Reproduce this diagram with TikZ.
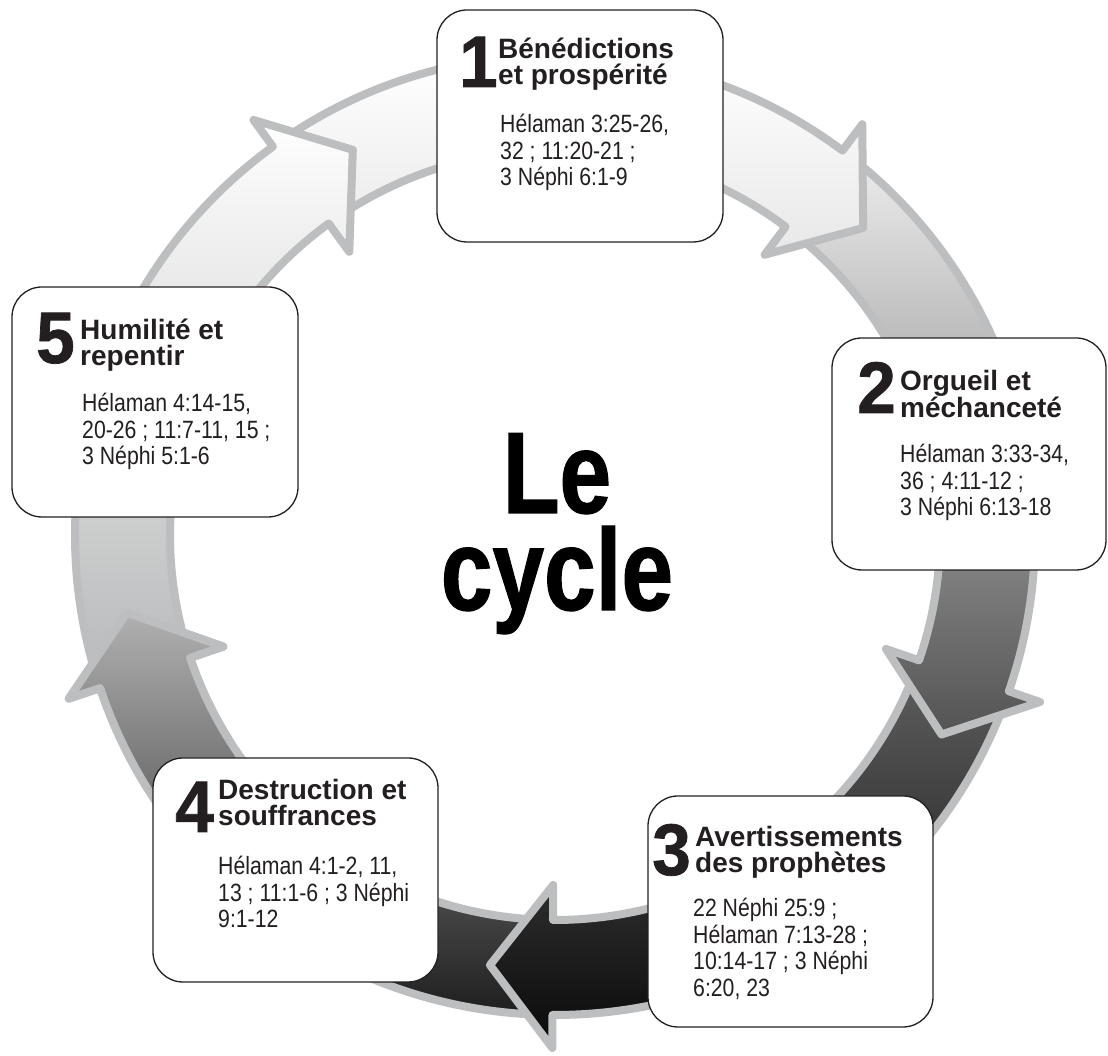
\documentclass[tikz,border=0pt]{standalone}
\usepackage{fontspec}
\setmainfont{Liberation Sans}
\newfontfamily\bodyfont{Liberation Sans}[FakeStretch=0.85]
\newfontfamily\numfont{Liberation Sans}[FakeStretch=0.95,FakeBold=1]
\newfontfamily\titlefont{Liberation Sans}[FakeStretch=0.8,FakeBold=1]
\definecolor{cycRim}{HTML}{BCBEC0}
\definecolor{cycInk}{HTML}{231F20}
\definecolor{cycAlo}{HTML}{B8B9BA}
\definecolor{cycBlo}{HTML}{E8E8E8}
\definecolor{cycChi}{HTML}{EFEFEF}
\definecolor{cycClo}{HTML}{545454}
\definecolor{cycDhi}{HTML}{5E5E5E}
\definecolor{cycDlo}{HTML}{080808}
\definecolor{cycEhi}{HTML}{B3B3B3}
\definecolor{cycElo}{HTML}{1E1E1E}
\usetikzlibrary{positioning}

% one arrow of the ring: #1 tail angle, #2 angle of the head's base
\newcommand{\segpath}[2]{(#1:480) arc[start angle=#1, end angle=#2, radius=480]
  -- (#2:513) -- ({#2-8.3}:435) -- (#2:350) -- (#2:385)
  arc[start angle=#2, end angle=#1, radius=385] -- cycle}
% #3/#4 bottom/top of the shading, #5/#6 bottom/top colour
\newcommand{\ringseg}[6]{%
  \begin{scope}
    \clip[ring] \segpath{#1}{#2};
    \shade[bottom color=#5, top color=#6] (0,#3) rectangle (1108,#4);
  \end{scope}
  \draw[ring, ringline] \segpath{#1}{#2};}

\begin{document}
\begin{tikzpicture}[
  x=1pt, y=1pt,
  ring/.style={shift={(555,521)}},
  ringline/.style={draw=cycRim, line width=8pt, line join=round},
  stage/.style={draw=cycInk, fill=white, line width=1.3pt, rounded corners=30pt},
  num/.style={anchor=base east, inner sep=0pt, text=cycInk, font=\numfont\bfseries\fontsize{73}{73}\selectfont},
  head/.style={anchor=base west, inner sep=0pt, align=left, text=cycInk, font=\bfseries\fontsize{28}{26}\selectfont},
  refs/.style={anchor=base west, inner sep=0pt, align=left, text=cycInk, font=\bodyfont\fontsize{25}{26.5}\selectfont},
  title/.style={anchor=base, inner sep=0pt, align=center, font=\titlefont\bfseries\fontsize{116}{97}\selectfont},
]
  \useasboundingbox (0,0) rectangle (1108,1056);
  \fill[white] (0,0) rectangle (1108,1056);

  % Ring: each arrow's head lies over the tail of the next one
  \ringseg{-92.3}{-161.4}{41}{450}{cycElo}{cycEhi}
  \ringseg{-21}{-90.3}{5}{385}{cycDlo}{cycDhi}
  \ringseg{51.2}{-19}{325}{910}{cycClo}{cycChi}
  \ringseg{124}{53.2}{803}{1001}{cycBlo}{white}
  \ringseg{196.6}{126}{373}{945}{cycAlo}{white}
  % head of the last arrow again, over the first tail
  \begin{scope}
    \clip[ring] (0,0) -- (180:620) arc[start angle=180, end angle=212, radius=620] -- cycle;
    \ringseg{-92.3}{-161.4}{41}{450}{cycElo}{cycEhi}
  \end{scope}

  % Stage boxes
  \node[stage, minimum width=286pt, minimum height=232pt] (b1) at (580,930) {};
  \node[stage, minimum width=274pt, minimum height=232pt] (b2) at (969,602) {};
  \node[stage, minimum width=285pt, minimum height=231pt] (b3) at (790.5,144.5) {};
  \node[stage, minimum width=285pt, minimum height=224pt] (b4) at (295.5,186) {};
  \node[stage, minimum width=286pt, minimum height=230pt] (b5) at (155,654) {};

  % Numbers
  \node[num] (n1) at (498,969) {1};
  \node[num] (n2) at (896,643) {2};
  \node[num] (n3) at (691,181) {3};
  \node[num] (n4) at (214,224) {4};
  \node[num] (n5) at (75,693) {5};

  % Stage titles (placed by their last line)
  \node[head] (h1) at (498,971) {Bénédictions\\et prospérité};
  \node[head] (h2) at (900,638) {Orgueil et\\méchanceté};
  \node[head] (h3) at (695,183) {Avertissements\\des prophètes};
  \node[head] (h4) at (218,230) {Destruction et\\souffrances};
  \node[head] (h5) at (80,690) {Humilité et\\repentir};

  % References
  \node[refs] (r1) at (500,870) {Hélaman 3:25-26,\\32 ; 11:20-21 ;\\3 Néphi 6:1-9};
  \node[refs] (r2) at (900,540) {Hélaman 3:33-34,\\36 ; 4:11-12 ;\\3 Néphi 6:13-18};
  \node[refs] (r3) at (693,59.5) {22 Néphi 25:9 ;\\Hélaman 7:13-28 ;\\10:14-17 ; 3 Néphi\\6:20, 23};
  \node[refs] (r4) at (218,128) {Hélaman 4:1-2, 11,\\13 ; 11:1-6 ; 3 Néphi\\9:1-12};
  \node[refs] (r5) at (82,591) {Hélaman 4:14-15,\\20-26 ; 11:7-11, 15 ;\\3 Néphi 5:1-6};

  % Centre
  \node[title] (ttl) at (557,446) {Le\\cycle};
\end{tikzpicture}
\end{document}
